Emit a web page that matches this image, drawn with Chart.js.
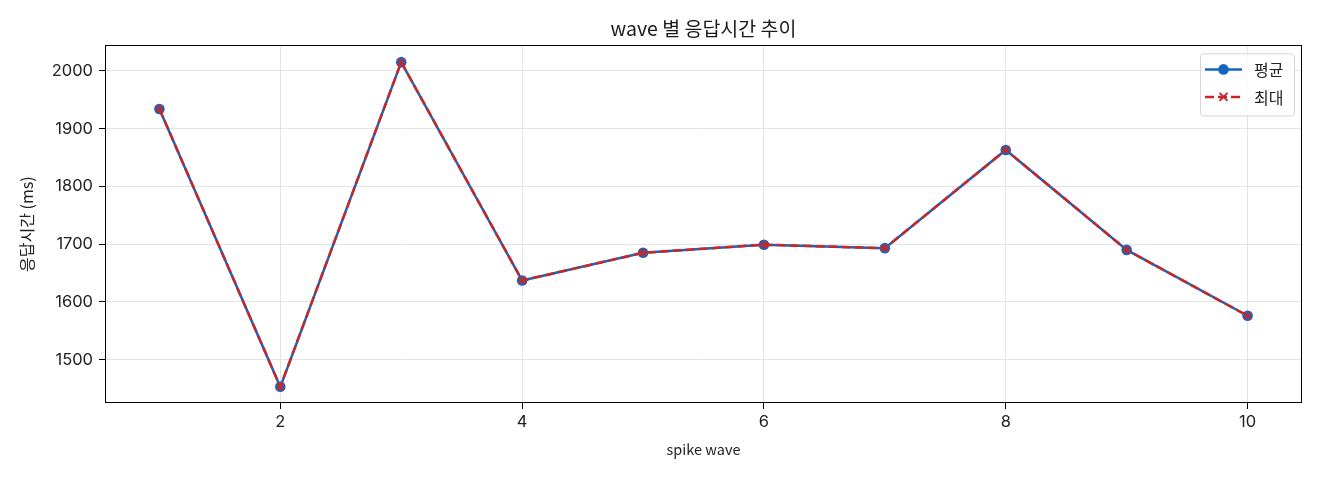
<!DOCTYPE html>
<html>
<head>
<meta charset="utf-8">
<script src="https://cdn.jsdelivr.net/npm/chart.js@4.4.0/dist/chart.umd.min.js"></script>
<style>
html,body{margin:0;padding:0;background:#fff;}
#wrap{width:1320px;height:480px;}
</style>
</head>
<body>
<div id="wrap"><canvas id="c" width="1320" height="480"></canvas></div>
<script>
const waves = [1, 2, 3, 4, 5, 6, 7, 8, 9, 10];
const avgMs = [1934, 1453, 2015, 1637, 1685, 1699, 1693, 1863, 1690, 1576];
const maxMs = [1934, 1453, 2015, 1637, 1685, 1699, 1693, 1863, 1690, 1576];
const xTicks = [2, 4, 6, 8, 10];
const yTicks = [1500, 1600, 1700, 1800, 1900, 2000];
const seriesLabels = ['평균', '최대'];
const titleText = 'wave 별 응답시간 추이';
const xTitle = 'spike wave';
const yTitle = '응답시간 (ms)';

const KR = "'Noto Sans CJK KR', 'Noto Sans', sans-serif";
const NUM = "Inter, 'Noto Sans CJK KR', sans-serif";
const BLUE = '#1565c0';
const RED = '#c62828';

const frame = {
  id: 'frame',
  afterDatasetsDraw(chart) {
    const a = chart.chartArea, ctx = chart.ctx;
    ctx.save();
    ctx.strokeStyle = '#000';
    ctx.lineWidth = 1;
    ctx.strokeRect(Math.round(a.left) + 0.5, Math.round(a.top) + 0.5,
      Math.round(a.right - a.left) - 1, Math.round(a.bottom - a.top) - 1);
    ctx.restore();
  },
  afterDraw(chart) {
    const a = chart.chartArea, ctx = chart.ctx;
    const w = 94, h = 62;
    const x0 = a.right - 8 - w, y0 = a.top + 8;
    ctx.save();
    ctx.fillStyle = 'rgba(255,255,255,0.8)';
    ctx.strokeStyle = '#d6d6d6';
    ctx.lineWidth = 1;
    ctx.beginPath();
    ctx.roundRect(x0 + 0.5, y0 + 0.5, w, h, 3);
    ctx.fill();
    ctx.stroke();
    chart.data.datasets.forEach((ds, i) => {
      const cy = y0 + 16 + i * 27.5;
      const lx0 = x0 + 5, lx1 = x0 + 42, mx = (lx0 + lx1) / 2;
      ctx.strokeStyle = ds.borderColor;
      ctx.lineWidth = ds.borderWidth;
      ctx.setLineDash(ds.borderDash || []);
      ctx.beginPath();
      ctx.moveTo(lx0, cy); ctx.lineTo(lx1, cy); ctx.stroke();
      ctx.setLineDash([]);
      if (ds.pointStyle === 'circle') {
        ctx.fillStyle = ds.pointBackgroundColor;
        ctx.beginPath(); ctx.arc(mx, cy, 5.3, 0, Math.PI * 2); ctx.fill();
      } else {
        ctx.strokeStyle = ds.pointBorderColor;
        ctx.lineWidth = 2;
        ctx.beginPath();
        ctx.moveTo(mx - 4, cy - 4); ctx.lineTo(mx + 4, cy + 4);
        ctx.moveTo(mx + 4, cy - 4); ctx.lineTo(mx - 4, cy + 4);
        ctx.stroke();
      }
      ctx.fillStyle = '#222';
      ctx.font = '16px ' + KR;
      ctx.textBaseline = 'middle';
      ctx.textAlign = 'left';
      ctx.fillText(ds.label, x0 + 54, cy + 1);
    });
    ctx.restore();
  }
};

new Chart(document.getElementById('c'), {
  type: 'line',
  data: {
    datasets: [
      {
        label: seriesLabels[0],
        data: waves.map((w, i) => ({x: w, y: avgMs[i]})),
        order: 2,
        borderColor: BLUE,
        backgroundColor: BLUE,
        borderWidth: 2.5,
        pointStyle: 'circle',
        pointRadius: 5.3,
        pointBackgroundColor: BLUE,
        pointBorderColor: BLUE,
        pointBorderWidth: 0,
        tension: 0,
        fill: false
      },
      {
        label: seriesLabels[1],
        data: waves.map((w, i) => ({x: w, y: maxMs[i]})),
        order: 1,
        borderColor: RED,
        backgroundColor: RED,
        borderWidth: 2.5,
        borderDash: [9, 4],
        pointStyle: 'crossRot',
        pointRadius: 5,
        pointBorderColor: RED,
        pointBackgroundColor: RED,
        pointBorderWidth: 2,
        tension: 0,
        fill: false
      }
    ]
  },
  options: {
    responsive: false,
    animation: false,
    devicePixelRatio: 1,
    layout: {padding: {left: 10, right: 18, top: 0, bottom: 22}},
    plugins: {
      legend: {display: false},
      tooltip: {enabled: false},
      title: {
        display: true,
        fullSize: false,
        text: titleText,
        color: '#1a1a1a',
        font: {family: KR, size: 19.5, weight: 'normal'},
        padding: {top: 17, bottom: 5}
      }
    },
    scales: {
      x: {
        type: 'linear',
        min: 0.55,
        max: 10.45,
        afterBuildTicks: s => { s.ticks = xTicks.map(v => ({value: v})); },
        afterFit: s => { s.height = 55; },
        ticks: {color: '#222', font: {family: NUM, size: 16.5}, padding: 3, maxRotation: 0, autoSkip: false,
          callback: v => String(v)},
        grid: {color: '#e4e4e4', lineWidth: 1, drawTicks: true, tickLength: 6, tickColor: '#000', tickWidth: 1},
        border: {display: false},
        title: {display: true, text: xTitle, color: '#222', font: {family: KR, size: 14.5}, padding: {top: 4, bottom: 0}}
      },
      y: {
        type: 'linear',
        min: 1425,
        max: 2044,
        afterBuildTicks: s => { s.ticks = yTicks.map(v => ({value: v})); },
        afterFit: s => { s.width = 95; },
        ticks: {color: '#222', font: {family: NUM, size: 16.5}, padding: 6, autoSkip: false,
          callback: v => String(v)},
        grid: {color: '#e4e4e4', lineWidth: 1, drawTicks: true, tickLength: 6, tickColor: '#000', tickWidth: 1},
        border: {display: false},
        title: {display: true, text: yTitle, color: '#222', font: {family: KR, size: 16}, padding: {top: 7, bottom: 0}}
      }
    }
  },
  plugins: [frame]
});
</script>
</body>
</html>
